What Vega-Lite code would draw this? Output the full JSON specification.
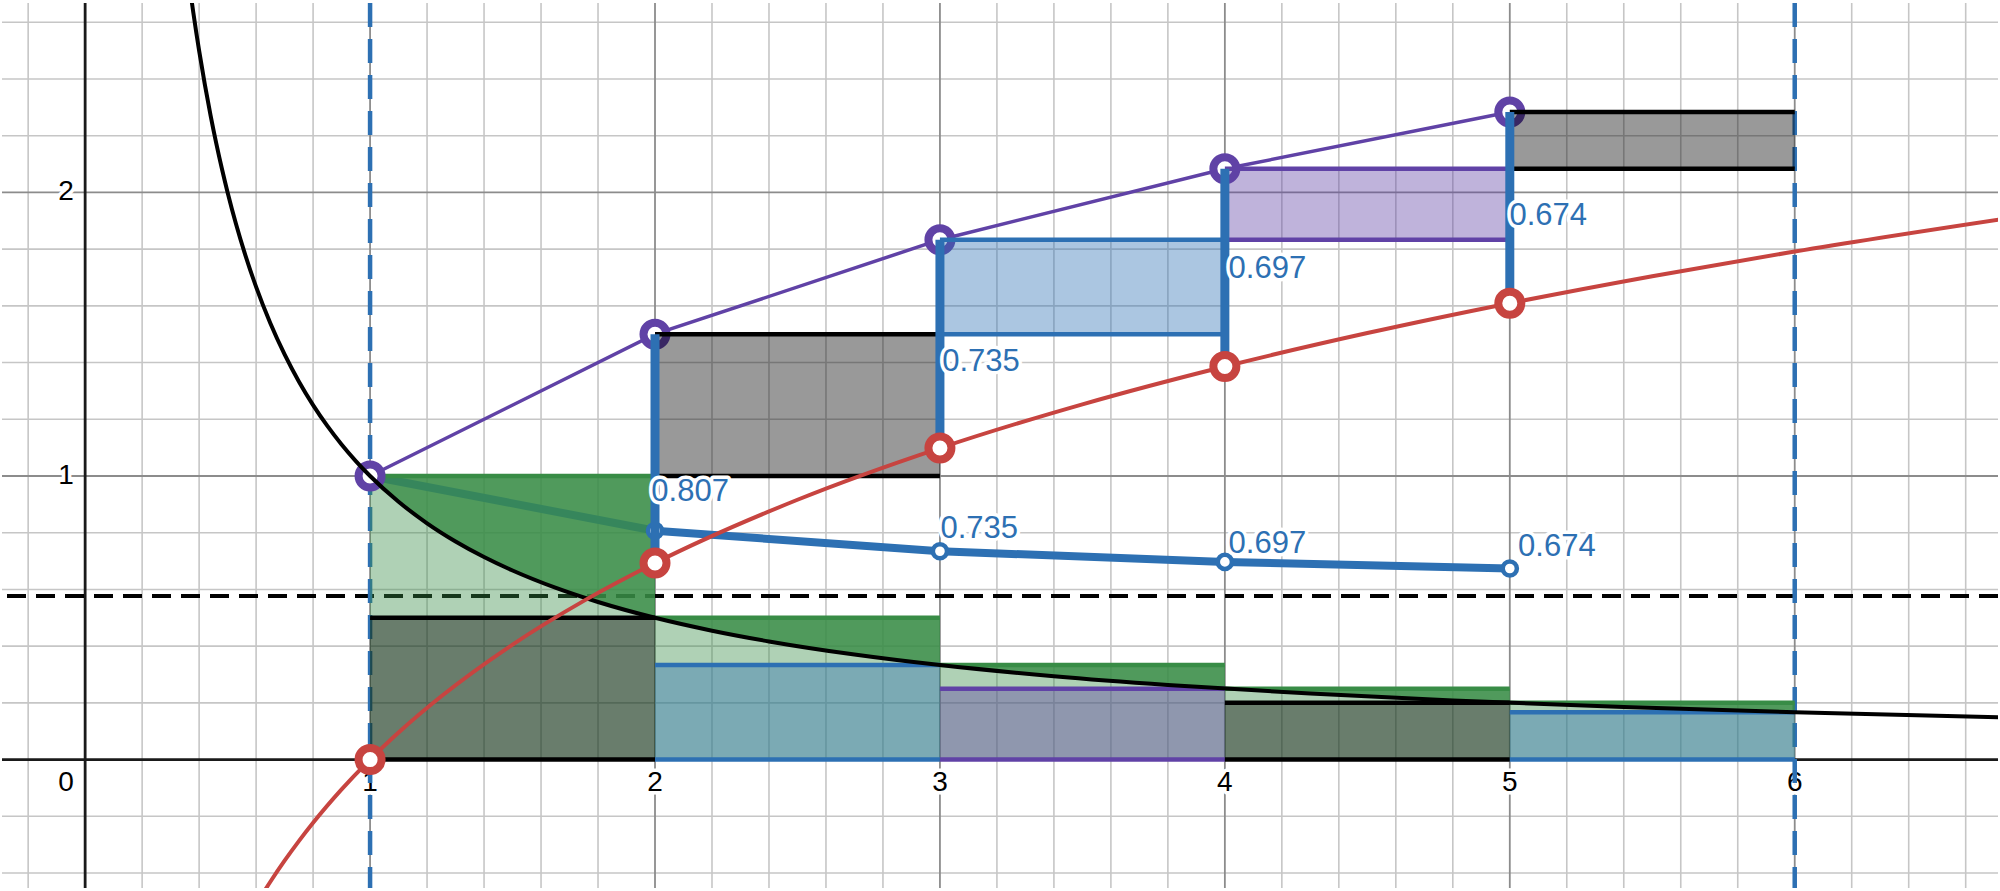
{
  "$schema": "https://vega.github.io/schema/vega-lite/v6.json",
  "width": 2000,
  "height": 891,
  "padding": 0,
  "autosize": {"type": "fit", "contains": "padding"},
  "background": "white",
  "config": {"view": {"stroke": null}},
  "datasets": {
    "gridx": [
      {"v": -0.2, "major": 0}, {"v": 0.2, "major": 0}, {"v": 0.4, "major": 0}, {"v": 0.6, "major": 0}, {"v": 0.8, "major": 0},
      {"v": 1, "major": 1}, {"v": 1.2, "major": 0}, {"v": 1.4, "major": 0}, {"v": 1.6, "major": 0}, {"v": 1.8, "major": 0},
      {"v": 2, "major": 1}, {"v": 2.2, "major": 0}, {"v": 2.4, "major": 0}, {"v": 2.6, "major": 0}, {"v": 2.8, "major": 0},
      {"v": 3, "major": 1}, {"v": 3.2, "major": 0}, {"v": 3.4, "major": 0}, {"v": 3.6, "major": 0}, {"v": 3.8, "major": 0},
      {"v": 4, "major": 1}, {"v": 4.2, "major": 0}, {"v": 4.4, "major": 0}, {"v": 4.6, "major": 0}, {"v": 4.8, "major": 0},
      {"v": 5, "major": 1}, {"v": 5.2, "major": 0}, {"v": 5.4, "major": 0}, {"v": 5.6, "major": 0}, {"v": 5.8, "major": 0},
      {"v": 6, "major": 1}, {"v": 6.2, "major": 0}, {"v": 6.4, "major": 0}, {"v": 6.6, "major": 0}
    ],
    "gridy": [
      {"v": -0.4, "major": 0}, {"v": -0.2, "major": 0}, {"v": 0.2, "major": 0}, {"v": 0.4, "major": 0}, {"v": 0.6, "major": 0},
      {"v": 0.8, "major": 0}, {"v": 1, "major": 1}, {"v": 1.2, "major": 0}, {"v": 1.4, "major": 0}, {"v": 1.6, "major": 0},
      {"v": 1.8, "major": 0}, {"v": 2, "major": 1}, {"v": 2.2, "major": 0}, {"v": 2.4, "major": 0}, {"v": 2.6, "major": 0}
    ],
    "origin": [{"v": 0}],
    "xlab": [
      {"x": 1, "y": -0.081, "t": "1"}, {"x": 2, "y": -0.081, "t": "2"}, {"x": 3, "y": -0.081, "t": "3"},
      {"x": 4, "y": -0.081, "t": "4"}, {"x": 5, "y": -0.081, "t": "5"}, {"x": 6, "y": -0.081, "t": "6"}
    ],
    "ylab": [
      {"x": -0.04, "y": -0.081, "t": "0"}, {"x": -0.04, "y": 1, "t": "1"}, {"x": -0.04, "y": 2, "t": "2"}
    ],
    "gamma": [{"y": 0.5772}],
    "bounds": [{"x": 1}, {"x": 6}],
    "terms": [
      {"n": 1, "x": 1, "x2": 2, "base": 0, "top": 1, "low": 0.5},
      {"n": 2, "x": 2, "x2": 3, "base": 0, "top": 0.5, "low": 0.3333},
      {"n": 3, "x": 3, "x2": 4, "base": 0, "top": 0.3333, "low": 0.25},
      {"n": 4, "x": 4, "x2": 5, "base": 0, "top": 0.25, "low": 0.2},
      {"n": 5, "x": 5, "x2": 6, "base": 0, "top": 0.2, "low": 0.1667}
    ],
    "upper": [
      {"n": 1, "ux": 2, "ux2": 3, "uy": 1, "uy2": 1.5},
      {"n": 2, "ux": 3, "ux2": 4, "uy": 1.5, "uy2": 1.8333},
      {"n": 3, "ux": 4, "ux2": 5, "uy": 1.8333, "uy2": 2.0833},
      {"n": 4, "ux": 5, "ux2": 6, "uy": 2.0833, "uy2": 2.2833}
    ],
    "pts": [
      {"n": 1, "x": 1, "H": 1, "L": 0, "D": 1},
      {"n": 2, "x": 2, "H": 1.5, "L": 0.6931, "D": 0.8069},
      {"n": 3, "x": 3, "H": 1.8333, "L": 1.0986, "D": 0.7347},
      {"n": 4, "x": 4, "H": 2.0833, "L": 1.3863, "D": 0.697},
      {"n": 5, "x": 5, "H": 2.2833, "L": 1.6094, "D": 0.6739}
    ],
    "excess": [
      {"n": 1, "x": 1, "y": 1, "top": 1}, {"n": 1, "x": 1.1, "y": 0.9091, "top": 1}, {"n": 1, "x": 1.2, "y": 0.8333, "top": 1},
      {"n": 1, "x": 1.3, "y": 0.7692, "top": 1}, {"n": 1, "x": 1.4, "y": 0.7143, "top": 1}, {"n": 1, "x": 1.5, "y": 0.6667, "top": 1},
      {"n": 1, "x": 1.65, "y": 0.6061, "top": 1}, {"n": 1, "x": 1.8, "y": 0.5556, "top": 1}, {"n": 1, "x": 2, "y": 0.5, "top": 1},
      {"n": 2, "x": 2, "y": 0.5, "top": 0.5}, {"n": 2, "x": 2.2, "y": 0.4545, "top": 0.5}, {"n": 2, "x": 2.4, "y": 0.4167, "top": 0.5},
      {"n": 2, "x": 2.7, "y": 0.3704, "top": 0.5}, {"n": 2, "x": 3, "y": 0.3333, "top": 0.5},
      {"n": 3, "x": 3, "y": 0.3333, "top": 0.3333}, {"n": 3, "x": 3.2, "y": 0.3125, "top": 0.3333}, {"n": 3, "x": 3.4, "y": 0.2941, "top": 0.3333},
      {"n": 3, "x": 3.6, "y": 0.2778, "top": 0.3333}, {"n": 3, "x": 3.8, "y": 0.2632, "top": 0.3333}, {"n": 3, "x": 4, "y": 0.25, "top": 0.3333},
      {"n": 4, "x": 4, "y": 0.25, "top": 0.25}, {"n": 4, "x": 4.3, "y": 0.2326, "top": 0.25}, {"n": 4, "x": 4.6, "y": 0.2174, "top": 0.25},
      {"n": 4, "x": 5, "y": 0.2, "top": 0.25},
      {"n": 5, "x": 5, "y": 0.2, "top": 0.2}, {"n": 5, "x": 5.4, "y": 0.1852, "top": 0.2}, {"n": 5, "x": 5.7, "y": 0.1754, "top": 0.2},
      {"n": 5, "x": 6, "y": 0.1667, "top": 0.2}
    ],
    "recip": [
      {"x": 0.36, "y": 2.7778}, {"x": 0.37, "y": 2.7027}, {"x": 0.38, "y": 2.6316}, {"x": 0.39, "y": 2.5641}, {"x": 0.4, "y": 2.5},
      {"x": 0.42, "y": 2.381}, {"x": 0.44, "y": 2.2727}, {"x": 0.46, "y": 2.1739}, {"x": 0.48, "y": 2.0833}, {"x": 0.5, "y": 2},
      {"x": 0.53, "y": 1.8868}, {"x": 0.56, "y": 1.7857}, {"x": 0.6, "y": 1.6667}, {"x": 0.65, "y": 1.5385}, {"x": 0.7, "y": 1.4286},
      {"x": 0.75, "y": 1.3333}, {"x": 0.8, "y": 1.25}, {"x": 0.85, "y": 1.1765}, {"x": 0.9, "y": 1.1111}, {"x": 0.95, "y": 1.0526},
      {"x": 1, "y": 1}, {"x": 1.1, "y": 0.9091}, {"x": 1.2, "y": 0.8333}, {"x": 1.3, "y": 0.7692}, {"x": 1.4, "y": 0.7143},
      {"x": 1.5, "y": 0.6667}, {"x": 1.65, "y": 0.6061}, {"x": 1.8, "y": 0.5556}, {"x": 2, "y": 0.5}, {"x": 2.2, "y": 0.4545},
      {"x": 2.4, "y": 0.4167}, {"x": 2.7, "y": 0.3704}, {"x": 3, "y": 0.3333}, {"x": 3.4, "y": 0.2941}, {"x": 3.8, "y": 0.2632},
      {"x": 4.3, "y": 0.2326}, {"x": 4.8, "y": 0.2083}, {"x": 5.4, "y": 0.1852}, {"x": 6, "y": 0.1667}, {"x": 6.75, "y": 0.1481}
    ],
    "logc": [
      {"x": 0.6, "y": -0.5108}, {"x": 0.65, "y": -0.4308}, {"x": 0.7, "y": -0.3567}, {"x": 0.75, "y": -0.2877}, {"x": 0.8, "y": -0.2231},
      {"x": 0.9, "y": -0.1054}, {"x": 1, "y": 0}, {"x": 1.1, "y": 0.0953}, {"x": 1.25, "y": 0.2231}, {"x": 1.5, "y": 0.4055},
      {"x": 1.75, "y": 0.5596}, {"x": 2, "y": 0.6931}, {"x": 2.5, "y": 0.9163}, {"x": 3, "y": 1.0986}, {"x": 3.5, "y": 1.2528},
      {"x": 4, "y": 1.3863}, {"x": 4.5, "y": 1.5041}, {"x": 5, "y": 1.6094}, {"x": 5.5, "y": 1.7047}, {"x": 6, "y": 1.7918},
      {"x": 6.75, "y": 1.9095}
    ],
    "labels": [
      {"x": 1.987, "y": 0.911, "t": "0.807"},
      {"x": 3.008, "y": 1.3695, "t": "0.735"},
      {"x": 4.013, "y": 1.699, "t": "0.697"},
      {"x": 4.999, "y": 1.886, "t": "0.674"},
      {"x": 3.002, "y": 0.7825, "t": "0.735"},
      {"x": 4.013, "y": 0.73, "t": "0.697"},
      {"x": 5.029, "y": 0.718, "t": "0.674"}
    ]
  },
  "layer": [
    {"data": {"name": "gridx"}, "transform": [{"filter": "datum.major == 0"}],
     "mark": {"type": "rule", "color": "#c6c6c6", "strokeWidth": 1.6},
     "encoding": {"x": {"field": "v", "type": "quantitative", "axis": null, "scale": {"domain": [-0.2918, 6.7134], "nice": false, "zero": false}}}},
    {"data": {"name": "gridy"}, "transform": [{"filter": "datum.major == 0"}],
     "mark": {"type": "rule", "color": "#c6c6c6", "strokeWidth": 1.6},
     "encoding": {"y": {"field": "v", "type": "quantitative", "axis": null, "scale": {"domain": [-0.4529, 2.668], "nice": false, "zero": false}}}},
    {"data": {"name": "gridx"}, "transform": [{"filter": "datum.major == 1"}],
     "mark": {"type": "rule", "color": "#8c8c8c", "strokeWidth": 1.8},
     "encoding": {"x": {"field": "v", "type": "quantitative", "axis": null, "scale": {"domain": [-0.2918, 6.7134], "nice": false, "zero": false}}}},
    {"data": {"name": "gridy"}, "transform": [{"filter": "datum.major == 1"}],
     "mark": {"type": "rule", "color": "#8c8c8c", "strokeWidth": 1.8},
     "encoding": {"y": {"field": "v", "type": "quantitative", "axis": null, "scale": {"domain": [-0.4529, 2.668], "nice": false, "zero": false}}}},
    {"data": {"name": "origin"},
     "mark": {"type": "rule", "color": "#1a1a1a", "strokeWidth": 2.8},
     "encoding": {"x": {"field": "v", "type": "quantitative", "axis": null, "scale": {"domain": [-0.2918, 6.7134], "nice": false, "zero": false}}}},
    {"data": {"name": "origin"},
     "mark": {"type": "rule", "color": "#1a1a1a", "strokeWidth": 2.8},
     "encoding": {"y": {"field": "v", "type": "quantitative", "axis": null, "scale": {"domain": [-0.4529, 2.668], "nice": false, "zero": false}}}},
    {"data": {"name": "xlab"},
     "mark": {"type": "text", "font": "Liberation Sans", "fontSize": 28, "align": "center", "baseline": "middle", "fill": "white", "stroke": "white", "strokeWidth": 7, "strokeJoin": "round"},
     "encoding": {"x": {"field": "x", "type": "quantitative", "axis": null, "scale": {"domain": [-0.2918, 6.7134], "nice": false, "zero": false}},
                  "y": {"field": "y", "type": "quantitative", "axis": null, "scale": {"domain": [-0.4529, 2.668], "nice": false, "zero": false}},
                  "text": {"field": "t", "type": "nominal"}}},
    {"data": {"name": "xlab"},
     "mark": {"type": "text", "font": "Liberation Sans", "fontSize": 28, "align": "center", "baseline": "middle", "color": "#000000"},
     "encoding": {"x": {"field": "x", "type": "quantitative", "axis": null, "scale": {"domain": [-0.2918, 6.7134], "nice": false, "zero": false}},
                  "y": {"field": "y", "type": "quantitative", "axis": null, "scale": {"domain": [-0.4529, 2.668], "nice": false, "zero": false}},
                  "text": {"field": "t", "type": "nominal"}}},
    {"data": {"name": "ylab"},
     "mark": {"type": "text", "font": "Liberation Sans", "fontSize": 28, "align": "right", "baseline": "middle", "fill": "white", "stroke": "white", "strokeWidth": 7, "strokeJoin": "round"},
     "encoding": {"x": {"field": "x", "type": "quantitative", "axis": null, "scale": {"domain": [-0.2918, 6.7134], "nice": false, "zero": false}},
                  "y": {"field": "y", "type": "quantitative", "axis": null, "scale": {"domain": [-0.4529, 2.668], "nice": false, "zero": false}},
                  "text": {"field": "t", "type": "nominal"}}},
    {"data": {"name": "ylab"},
     "mark": {"type": "text", "font": "Liberation Sans", "fontSize": 28, "align": "right", "baseline": "middle", "color": "#000000"},
     "encoding": {"x": {"field": "x", "type": "quantitative", "axis": null, "scale": {"domain": [-0.2918, 6.7134], "nice": false, "zero": false}},
                  "y": {"field": "y", "type": "quantitative", "axis": null, "scale": {"domain": [-0.4529, 2.668], "nice": false, "zero": false}},
                  "text": {"field": "t", "type": "nominal"}}},
    {"data": {"name": "gamma"},
     "mark": {"type": "rule", "color": "#000000", "strokeWidth": 4, "strokeDash": [19, 10]},
     "encoding": {"y": {"field": "y", "type": "quantitative", "axis": null, "scale": {"domain": [-0.4529, 2.668], "nice": false, "zero": false}}}},
    {"data": {"name": "bounds"},
     "mark": {"type": "rule", "color": "#2d70b3", "strokeWidth": 4.5, "strokeDash": [24, 12]},
     "encoding": {"x": {"field": "x", "type": "quantitative", "axis": null, "scale": {"domain": [-0.2918, 6.7134], "nice": false, "zero": false}}}},
    {"data": {"name": "terms"},
     "mark": {"type": "rect", "color": "#388c46", "opacity": 0.4},
     "encoding": {"x": {"field": "x", "type": "quantitative", "axis": null, "scale": {"domain": [-0.2918, 6.7134], "nice": false, "zero": false}},
                  "x2": {"field": "x2"},
                  "y": {"field": "base", "type": "quantitative", "axis": null, "scale": {"domain": [-0.4529, 2.668], "nice": false, "zero": false}},
                  "y2": {"field": "top"}}},
    {"data": {"name": "terms"},
     "mark": {"type": "rect", "opacity": 0.4},
     "encoding": {"x": {"field": "x", "type": "quantitative", "axis": null, "scale": {"domain": [-0.2918, 6.7134], "nice": false, "zero": false}},
                  "x2": {"field": "x2"},
                  "y": {"field": "base", "type": "quantitative", "axis": null, "scale": {"domain": [-0.4529, 2.668], "nice": false, "zero": false}},
                  "y2": {"field": "low"},
                  "color": {"field": "n", "type": "ordinal", "scale": {"domain": [1, 2, 3, 4, 5], "range": ["#000000", "#2d70b3", "#6042a6", "#000000", "#2d70b3"]}, "legend": null}}},
    {"data": {"name": "pts"},
     "mark": {"type": "line", "color": "#2d70b3", "strokeWidth": 8, "strokeCap": "round", "strokeJoin": "round"},
     "encoding": {"x": {"field": "x", "type": "quantitative", "axis": null, "scale": {"domain": [-0.2918, 6.7134], "nice": false, "zero": false}},
                  "y": {"field": "D", "type": "quantitative", "axis": null, "scale": {"domain": [-0.4529, 2.668], "nice": false, "zero": false}}}},
    {"data": {"name": "excess"},
     "mark": {"type": "area", "color": "#388c46", "opacity": 0.8, "interpolate": "monotone"},
     "encoding": {"x": {"field": "x", "type": "quantitative", "axis": null, "scale": {"domain": [-0.2918, 6.7134], "nice": false, "zero": false}},
                  "y": {"field": "y", "type": "quantitative", "axis": null, "scale": {"domain": [-0.4529, 2.668], "nice": false, "zero": false}},
                  "y2": {"field": "top"},
                  "detail": {"field": "n", "type": "nominal"}}},
    {"data": {"name": "terms"},
     "mark": {"type": "rule", "color": "#388c46", "strokeWidth": 4.5},
     "encoding": {"x": {"field": "x", "type": "quantitative", "axis": null, "scale": {"domain": [-0.2918, 6.7134], "nice": false, "zero": false}},
                  "x2": {"field": "x2"},
                  "y": {"field": "top", "type": "quantitative", "axis": null, "scale": {"domain": [-0.4529, 2.668], "nice": false, "zero": false}}}},
    {"data": {"name": "terms"},
     "mark": {"type": "rule", "strokeWidth": 4.5},
     "encoding": {"x": {"field": "x", "type": "quantitative", "axis": null, "scale": {"domain": [-0.2918, 6.7134], "nice": false, "zero": false}},
                  "x2": {"field": "x2"},
                  "y": {"field": "low", "type": "quantitative", "axis": null, "scale": {"domain": [-0.4529, 2.668], "nice": false, "zero": false}},
                  "color": {"field": "n", "type": "ordinal", "scale": {"domain": [1, 2, 3, 4, 5], "range": ["#000000", "#2d70b3", "#6042a6", "#000000", "#2d70b3"]}, "legend": null}}},
    {"data": {"name": "terms"},
     "mark": {"type": "rule", "strokeWidth": 4.5},
     "encoding": {"x": {"field": "x", "type": "quantitative", "axis": null, "scale": {"domain": [-0.2918, 6.7134], "nice": false, "zero": false}},
                  "x2": {"field": "x2"},
                  "y": {"field": "base", "type": "quantitative", "axis": null, "scale": {"domain": [-0.4529, 2.668], "nice": false, "zero": false}},
                  "color": {"field": "n", "type": "ordinal", "scale": {"domain": [1, 2, 3, 4, 5], "range": ["#000000", "#2d70b3", "#6042a6", "#000000", "#2d70b3"]}, "legend": null}}},
    {"data": {"name": "pts"},
     "mark": {"type": "line", "color": "#6042a6", "strokeWidth": 3.5},
     "encoding": {"x": {"field": "x", "type": "quantitative", "axis": null, "scale": {"domain": [-0.2918, 6.7134], "nice": false, "zero": false}},
                  "y": {"field": "H", "type": "quantitative", "axis": null, "scale": {"domain": [-0.4529, 2.668], "nice": false, "zero": false}}}},
    {"data": {"name": "pts"},
     "mark": {"type": "point", "shape": "circle", "filled": false, "fill": "white", "fillOpacity": 1, "stroke": "#6042a6", "strokeWidth": 8, "size": 530, "opacity": 1},
     "encoding": {"x": {"field": "x", "type": "quantitative", "axis": null, "scale": {"domain": [-0.2918, 6.7134], "nice": false, "zero": false}},
                  "y": {"field": "H", "type": "quantitative", "axis": null, "scale": {"domain": [-0.4529, 2.668], "nice": false, "zero": false}}}},
    {"data": {"name": "upper"},
     "mark": {"type": "rect", "opacity": 0.4},
     "encoding": {"x": {"field": "ux", "type": "quantitative", "axis": null, "scale": {"domain": [-0.2918, 6.7134], "nice": false, "zero": false}},
                  "x2": {"field": "ux2"},
                  "y": {"field": "uy", "type": "quantitative", "axis": null, "scale": {"domain": [-0.4529, 2.668], "nice": false, "zero": false}},
                  "y2": {"field": "uy2"},
                  "color": {"field": "n", "type": "ordinal", "scale": {"domain": [1, 2, 3, 4, 5], "range": ["#000000", "#2d70b3", "#6042a6", "#000000", "#2d70b3"]}, "legend": null}}},
    {"data": {"name": "upper"},
     "mark": {"type": "rule", "strokeWidth": 4.5},
     "encoding": {"x": {"field": "ux", "type": "quantitative", "axis": null, "scale": {"domain": [-0.2918, 6.7134], "nice": false, "zero": false}},
                  "x2": {"field": "ux2"},
                  "y": {"field": "uy", "type": "quantitative", "axis": null, "scale": {"domain": [-0.4529, 2.668], "nice": false, "zero": false}},
                  "color": {"field": "n", "type": "ordinal", "scale": {"domain": [1, 2, 3, 4, 5], "range": ["#000000", "#2d70b3", "#6042a6", "#000000", "#2d70b3"]}, "legend": null}}},
    {"data": {"name": "upper"},
     "mark": {"type": "rule", "strokeWidth": 4.5},
     "encoding": {"x": {"field": "ux", "type": "quantitative", "axis": null, "scale": {"domain": [-0.2918, 6.7134], "nice": false, "zero": false}},
                  "x2": {"field": "ux2"},
                  "y": {"field": "uy2", "type": "quantitative", "axis": null, "scale": {"domain": [-0.4529, 2.668], "nice": false, "zero": false}},
                  "color": {"field": "n", "type": "ordinal", "scale": {"domain": [1, 2, 3, 4, 5], "range": ["#000000", "#2d70b3", "#6042a6", "#000000", "#2d70b3"]}, "legend": null}}},
    {"data": {"name": "recip"},
     "mark": {"type": "line", "color": "#000000", "strokeWidth": 4, "interpolate": "monotone", "clip": true},
     "encoding": {"x": {"field": "x", "type": "quantitative", "axis": null, "scale": {"domain": [-0.2918, 6.7134], "nice": false, "zero": false}},
                  "y": {"field": "y", "type": "quantitative", "axis": null, "scale": {"domain": [-0.4529, 2.668], "nice": false, "zero": false}}}},
    {"data": {"name": "pts"}, "transform": [{"filter": "datum.n >= 2"}],
     "mark": {"type": "point", "shape": "circle", "filled": false, "fill": "white", "fillOpacity": 1, "stroke": "#2d70b3", "strokeWidth": 4.5, "size": 200, "opacity": 1},
     "encoding": {"x": {"field": "x", "type": "quantitative", "axis": null, "scale": {"domain": [-0.2918, 6.7134], "nice": false, "zero": false}},
                  "y": {"field": "D", "type": "quantitative", "axis": null, "scale": {"domain": [-0.4529, 2.668], "nice": false, "zero": false}}}},
    {"data": {"name": "pts"}, "transform": [{"filter": "datum.n >= 2"}],
     "mark": {"type": "rule", "color": "#2d70b3", "strokeWidth": 9},
     "encoding": {"x": {"field": "x", "type": "quantitative", "axis": null, "scale": {"domain": [-0.2918, 6.7134], "nice": false, "zero": false}},
                  "y": {"field": "L", "type": "quantitative", "axis": null, "scale": {"domain": [-0.4529, 2.668], "nice": false, "zero": false}},
                  "y2": {"field": "H"}}},
    {"data": {"name": "logc"},
     "mark": {"type": "line", "color": "#c74440", "strokeWidth": 4, "interpolate": "monotone", "clip": true},
     "encoding": {"x": {"field": "x", "type": "quantitative", "axis": null, "scale": {"domain": [-0.2918, 6.7134], "nice": false, "zero": false}},
                  "y": {"field": "y", "type": "quantitative", "axis": null, "scale": {"domain": [-0.4529, 2.668], "nice": false, "zero": false}}}},
    {"data": {"name": "pts"},
     "mark": {"type": "point", "shape": "circle", "filled": false, "fill": "white", "fillOpacity": 1, "stroke": "#c74440", "strokeWidth": 8, "size": 530, "opacity": 1},
     "encoding": {"x": {"field": "x", "type": "quantitative", "axis": null, "scale": {"domain": [-0.2918, 6.7134], "nice": false, "zero": false}},
                  "y": {"field": "L", "type": "quantitative", "axis": null, "scale": {"domain": [-0.4529, 2.668], "nice": false, "zero": false}}}},
    {"data": {"name": "labels"},
     "mark": {"type": "text", "font": "Liberation Sans", "fontSize": 31, "align": "left", "baseline": "alphabetic", "fill": "white", "stroke": "white", "strokeWidth": 7, "strokeJoin": "round"},
     "encoding": {"x": {"field": "x", "type": "quantitative", "axis": null, "scale": {"domain": [-0.2918, 6.7134], "nice": false, "zero": false}},
                  "y": {"field": "y", "type": "quantitative", "axis": null, "scale": {"domain": [-0.4529, 2.668], "nice": false, "zero": false}},
                  "text": {"field": "t", "type": "nominal"}}},
    {"data": {"name": "labels"},
     "mark": {"type": "text", "font": "Liberation Sans", "fontSize": 31, "align": "left", "baseline": "alphabetic", "color": "#2d70b3"},
     "encoding": {"x": {"field": "x", "type": "quantitative", "axis": null, "scale": {"domain": [-0.2918, 6.7134], "nice": false, "zero": false}},
                  "y": {"field": "y", "type": "quantitative", "axis": null, "scale": {"domain": [-0.4529, 2.668], "nice": false, "zero": false}},
                  "text": {"field": "t", "type": "nominal"}}}
  ]
}
